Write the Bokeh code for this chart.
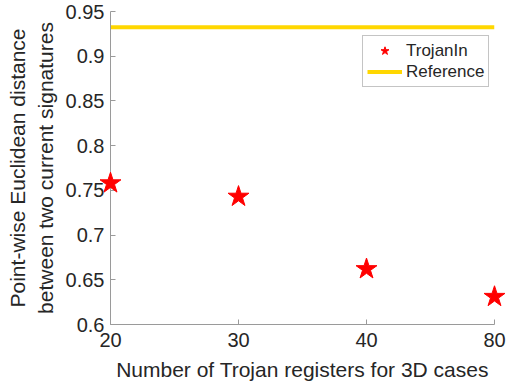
from bokeh.plotting import figure
from bokeh.models import ColumnDataSource, FixedTicker, Range1d, Legend, LegendItem
from bokeh.embed import file_html
from bokeh.resources import INLINE

# data
categories = ["20", "30", "40", "80"]
positions = [1, 2, 3, 4]
trojan_values = [0.758, 0.743, 0.662, 0.631]
reference_value = 0.9325
y_ticks = [0.6, 0.65, 0.7, 0.75, 0.8, 0.85, 0.9, 0.95]

FONT = "Liberation Sans"
TEXT = "#262626"

p = figure(width=509, height=388, output_backend="svg", toolbar_location=None,
           x_range=Range1d(1, 4), y_range=Range1d(0.6, 0.95),
           min_border_left=110, min_border_right=15, min_border_top=11, min_border_bottom=64)
p.outline_line_color = None
p.grid.visible = False
p.background_fill_color = "white"
p.border_fill_color = "white"

src = ColumnDataSource(dict(x=positions, y=trojan_values))
ref_src = ColumnDataSource(dict(x=[positions[0], positions[-1]], y=[reference_value, reference_value]))

ref = p.line("x", "y", source=ref_src, line_color="#FFD700", line_width=4)
stars = p.scatter("x", "y", source=src, marker="star", size=22, fill_color="#FF0000",
                  line_color="#FF0000", level="overlay")

p.xaxis.ticker = FixedTicker(ticks=positions)
p.xaxis.major_label_overrides = {pos: lab for pos, lab in zip(positions, categories)}
p.yaxis.ticker = FixedTicker(ticks=y_ticks)
p.yaxis.major_label_overrides = {t: ("%g" % t) for t in y_ticks}

for ax in (p.xaxis[0], p.yaxis[0]):
    ax.axis_line_color = "#9a9a9a"
    ax.axis_line_width = 1
    ax.major_tick_line_color = "#9a9a9a"
    ax.major_tick_in = 5
    ax.major_tick_out = 0
    ax.minor_tick_line_color = None
    ax.major_label_text_font = FONT
    ax.major_label_text_font_size = "20px"
    ax.major_label_text_color = TEXT
    ax.axis_label_text_font = FONT
    ax.axis_label_text_font_size = "21px"
    ax.axis_label_text_color = TEXT
    ax.axis_label_text_font_style = "normal"

p.xaxis.axis_label = "Number of Trojan registers for 3D cases"
p.xaxis.major_label_standoff = 8
p.xaxis.axis_label_standoff = 8
p.yaxis.axis_label = "Point-wise Euclidean distance\nbetween two current signatures"
p.yaxis.major_label_standoff = 6
p.yaxis.axis_label_standoff = 6

legend = Legend(items=[LegendItem(label="TrojanIn", renderers=[stars]),
                       LegendItem(label="Reference", renderers=[ref])],
                location=(252, 237))
legend.label_text_font = FONT
legend.label_text_font_size = "17px"
legend.label_text_color = TEXT
legend.border_line_color = "#8a8a8a"
legend.border_line_width = 1
legend.padding = 4
legend.spacing = 0
legend.margin = 0
legend.glyph_width = 35
legend.glyph_height = 21
legend.label_standoff = 4
legend.label_height = 21
legend.background_fill_alpha = 1
p.add_layout(legend)

open("out.html", "w").write(file_html(p, INLINE))
